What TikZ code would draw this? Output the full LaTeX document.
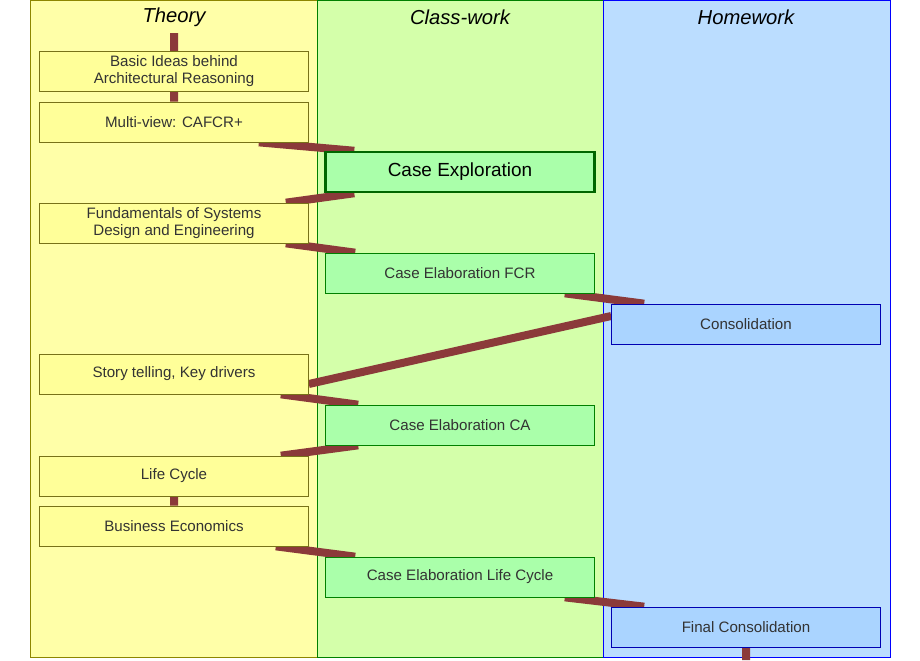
\documentclass[tikz,border=0pt]{standalone}
\usepackage{fontspec}
\setmainfont{Liberation Sans}
\usetikzlibrary{positioning}

\definecolor{theorybg}{HTML}{FFFFA8}
\definecolor{theorybox}{HTML}{FFFF99}
\definecolor{classbg}{HTML}{D4FFAA}
\definecolor{classbox}{HTML}{AAFFAA}
\definecolor{homebg}{HTML}{BBDDFF}
\definecolor{homebox}{HTML}{AAD4FF}
\definecolor{flow}{HTML}{8B3A3A}
\definecolor{txt}{HTML}{333333}

\pgfdeclarelayer{cols}
\pgfdeclarelayer{flows}
\pgfsetlayers{cols,flows,main}

\tikzset{
  col/.style={draw, minimum width=5.74cm, minimum height=13.14cm, anchor=north west, inner sep=0pt},
  head/.style={font=\fontsize{11.5}{13}\selectfont\itshape, text=black},
  stepbox/.style={draw, minimum width=5.38cm, minimum height=0.8cm, inner sep=1pt,
               align=center, text=txt, font=\fontsize{8.6}{10}\selectfont},
  theory/.style={stepbox, fill=theorybox, draw=olive!80!black},
  class/.style={stepbox, fill=classbox, draw=green!50!black},
  home/.style={stepbox, fill=homebox, draw=blue!70!black},
  flowline/.style={draw=flow, line width=1.6mm},
}

\begin{document}
\begin{tikzpicture}[x=0.02cm, y=-0.02cm]
   \useasboundingbox (0,0) rectangle (920,660);

   % columns
   \begin{pgfonlayer}{cols}
   \node[col, fill=theorybg, draw=olive] (T) at (30,0) {};
   \node[col, fill=classbg, draw=green!50!black] (C) at (317,0) {};
   \node[col, fill=homebg, draw=blue] (H) at (603,0) {};
   \end{pgfonlayer}
   \node[head] at (174,17) {Theory};
   \node[head] at (460,17) {Class-work};
   \node[head] at (746,17) {Homework};

   % steps
   \node[theory] (basic) at (174,71) {Basic Ideas behind\\Architectural Reasoning};
   \node[theory] (multi) at (174,122) {Multi-view: CAFCR+};
   \node[theory] (fund) at (174,223) {Fundamentals of Systems\\Design and Engineering};
   \node[theory] (story) at (174,374) {Story telling, Key drivers};
   \node[theory] (life) at (174,476) {Life Cycle};
   \node[theory] (econ) at (174,526) {Business Economics};

   \node[class, draw=green!40!black, line width=0.5mm,
         font=\fontsize{10.8}{12}\selectfont, text=black] (explore) at (460,172) {Case Exploration};
   \node[class] (fcr) at (460,273) {Case Elaboration FCR};
   \node[class] (ca) at (460,425) {Case Elaboration CA};
   \node[class] (lc) at (460,577) {Case Elaboration Life Cycle};

   \node[home] (cons) at (746,324) {Consolidation};
   \node[home] (final) at (746,627) {Final Consolidation};

   \coordinate (start) at (174,33);
   \coordinate (end) at (746,660);

   % flow, behind the steps
   \begin{pgfonlayer}{flows}
   \path[flowline]
     (start) -- (multi.north)
     ([xshift=-1.0cm]multi.south east) -- ([xshift=0.6cm]explore.north west)
     ([xshift=0.6cm]explore.south west) -- ([xshift=-0.46cm]fund.north east)
     ([xshift=-0.46cm]fund.south east) -- ([xshift=0.6cm]fcr.north west)
     ([xshift=-0.6cm]fcr.south east) -- ([xshift=0.66cm]cons.north west)
     ([yshift=0.16cm]cons.west) -- ([yshift=-0.2cm]story.east)
     ([xshift=-0.56cm]story.south east) -- ([xshift=0.66cm]ca.north west)
     ([xshift=0.66cm]ca.south west) -- ([xshift=-0.56cm]life.north east)
     (life.south) -- (econ.north)
     ([xshift=-0.66cm]econ.south east) -- ([xshift=0.6cm]lc.north west)
     ([xshift=-0.6cm]lc.south east) -- ([xshift=0.66cm]final.north west)
     (final.south) -- (end);
   \end{pgfonlayer}
\end{tikzpicture}
\end{document}
